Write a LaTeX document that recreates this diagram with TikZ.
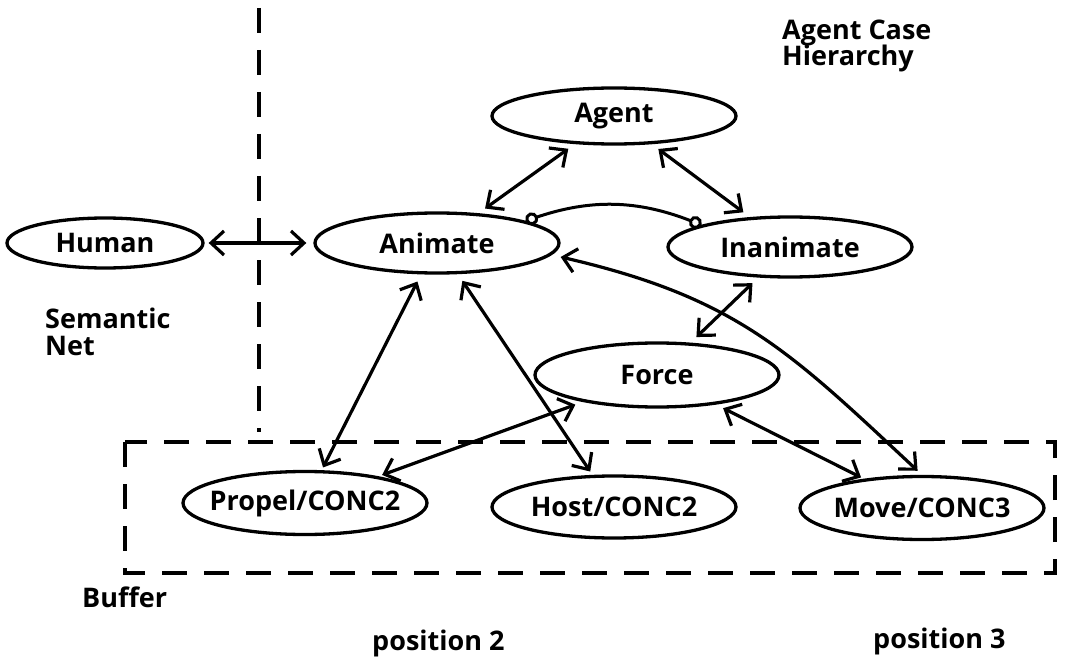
\documentclass[tikz,border=0pt]{standalone}
\usepackage{fontspec}
\setmainfont{Open Sans}
\usetikzlibrary{shapes.geometric,arrows.meta}
\begin{document}
\begin{tikzpicture}[x=1pt,y=-1pt,
  every node/.style={font=\fontsize{27}{30}\selectfont\bfseries},
  oval/.style={ellipse, draw, line width=3.3pt, inner sep=0pt, inner xsep=-25pt,
               minimum width=244pt, minimum height=60pt},
  link/.style={line width=3.2pt,
               {Straight Barb[length=13pt,width=24pt]}-{Straight Barb[length=13pt,width=24pt]},
               shorten <=8pt, shorten >=8pt},
  ring/.style={line width=3pt, {Circle[open,length=13pt,width=13pt]}-{Circle[open,length=13pt,width=13pt]}},
  fence/.style={line width=3.4pt, dash pattern=on 25pt off 17pt},
  lbl/.style={anchor=base west, inner sep=0pt}]

\useasboundingbox (0,0) rectangle (1066,658);

% region boundaries
\draw[fence] (259,8) -- (259,432);
\draw[fence] (125,442) rectangle (1055,573);

% concepts
\node[oval, minimum height=56pt] (agent) at (614,116) {Agent};
\node[oval, minimum width=196pt, minimum height=50pt] (human) at (105,243) {Human};
\node[oval] (animate) at (437,243) {Animate};
\node[oval] (inanimate) at (790,247) {Inanimate};
\node[oval, minimum height=64pt] (force) at (657,375) {Force};
\node[oval, minimum height=63pt] (propel) at (305,503) {Propel/CONC2};
\node[oval, minimum height=62pt] (host) at (614,507) {Host/CONC2};
\node[oval, minimum height=63pt] (move) at (922,508) {Move/CONC3};

% labels
\node[lbl] (hdrA) at (782,40) {Agent Case};
\node[lbl] (hdrB) at (782,66) {Hierarchy};
\node[lbl] (semA) at (45,328) {Semantic};
\node[lbl] (semB) at (45,355) {Net};
\node[lbl] (buf) at (82,607) {Buffer};
\node[lbl] (posB) at (372,650) {position 2};
\node[lbl] (posC) at (873,648) {position 3};

% links
\draw[link, shorten <=4pt, shorten >=7pt] (human) -- (animate);
\draw[link] (animate) -- (agent);
\draw[link] (agent) -- (inanimate);
\draw[link, shorten >=3pt] (animate) -- (propel);
\draw[link, shorten >=4pt] (animate) -- (host);
\draw[link] (inanimate) -- (force);
\draw[link, shorten >=4pt] (force) -- (propel);
\draw[link, shorten >=3pt] (force) -- (move);
\draw[link, shorten <=0pt, shorten >=6pt] ([yshift=-14pt]animate.east) to[out=-13,in=137,looseness=1.1] (move.north);
\draw[ring] (animate.14) to[bend left=20] (inanimate.166);
\end{tikzpicture}
\end{document}
